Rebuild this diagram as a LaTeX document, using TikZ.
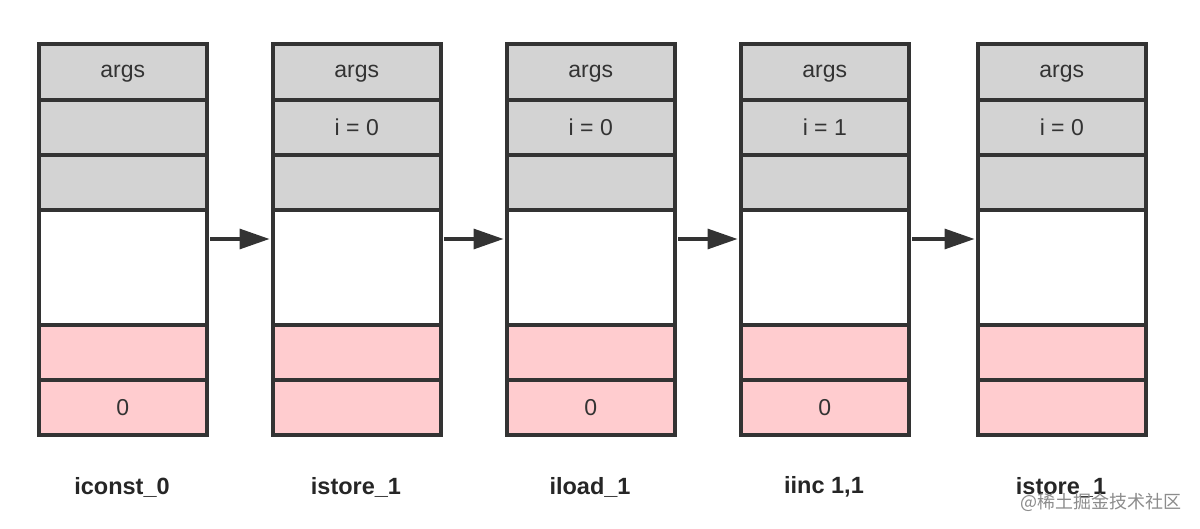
\documentclass[tikz,border=0pt]{standalone}
\usepackage{fontspec}
\setmainfont{Liberation Sans}
\newfontfamily\cjk{Noto Sans CJK SC}
\usetikzlibrary{arrows.meta}
\definecolor{cellgray}{HTML}{D3D3D3}
\definecolor{cellpink}{HTML}{FFCCCF}
\definecolor{edgec}{HTML}{333333}
\definecolor{txt}{HTML}{333333}
\tikzset{
  cell/.style={draw=edgec,line width=3.6pt,minimum width=168pt,inner sep=0pt,
    anchor=north west,font=\fontsize{23}{26}\selectfont,text=txt},
  graycell/.style={cell,fill=cellgray,minimum height=55pt},
  argscell/.style={graycell,minimum height=56pt,text depth=0pt},
  whitecell/.style={cell,fill=white,minimum height=115pt},
  pinkcell/.style={cell,fill=cellpink,minimum height=55pt},
  oplabel/.style={font=\bfseries\fontsize{23.5}{26}\selectfont,text=black!85},
  flow/.style={draw=edgec,line width=3.2pt,-{Triangle[length=30pt,width=20pt]}},
}
\begin{document}
\begin{tikzpicture}[x=1pt,y=-1pt]
\useasboundingbox[fill=white] (0,0) rectangle (1200,529);
\foreach \n/\x/\b/\f/\lab in {1/37/{}/0/{iconst\_0},2/271/{i = 0}/{}/{istore\_1},3/505/{i = 0}/0/{iload\_1},4/739/{i = 1}/0/{iinc 1,1},5/976/{i = 0}/{}/{istore\_1}}{
  \node[argscell] (c\n-1) at (\x,42) {args};
  \node[graycell] (c\n-2) at (\x,98) {\b};
  \node[graycell] (c\n-3) at (\x,153) {};
  \node[whitecell] (c\n-4) at (\x,208) {};
  \node[pinkcell] (c\n-5) at (\x,323) {};
  \node[pinkcell] (c\n-6) at (\x,378) {\f};
  \node[oplabel] (l\n) at (\x+85,487) {\lab};
}
\foreach \a/\b in {1/2,2/3,3/4,4/5}{
  \draw[flow] ([yshift=-31pt,xshift=1.8pt]c\a-4.north east) -- ([yshift=-31pt,xshift=-1.5pt]c\b-4.north west);
}
\node[font=\cjk\fontsize{18}{20}\selectfont,text=black!45,anchor=east] (wm) at (1185,502) {@稀土掘金技术社区};
\end{tikzpicture}
\end{document}
